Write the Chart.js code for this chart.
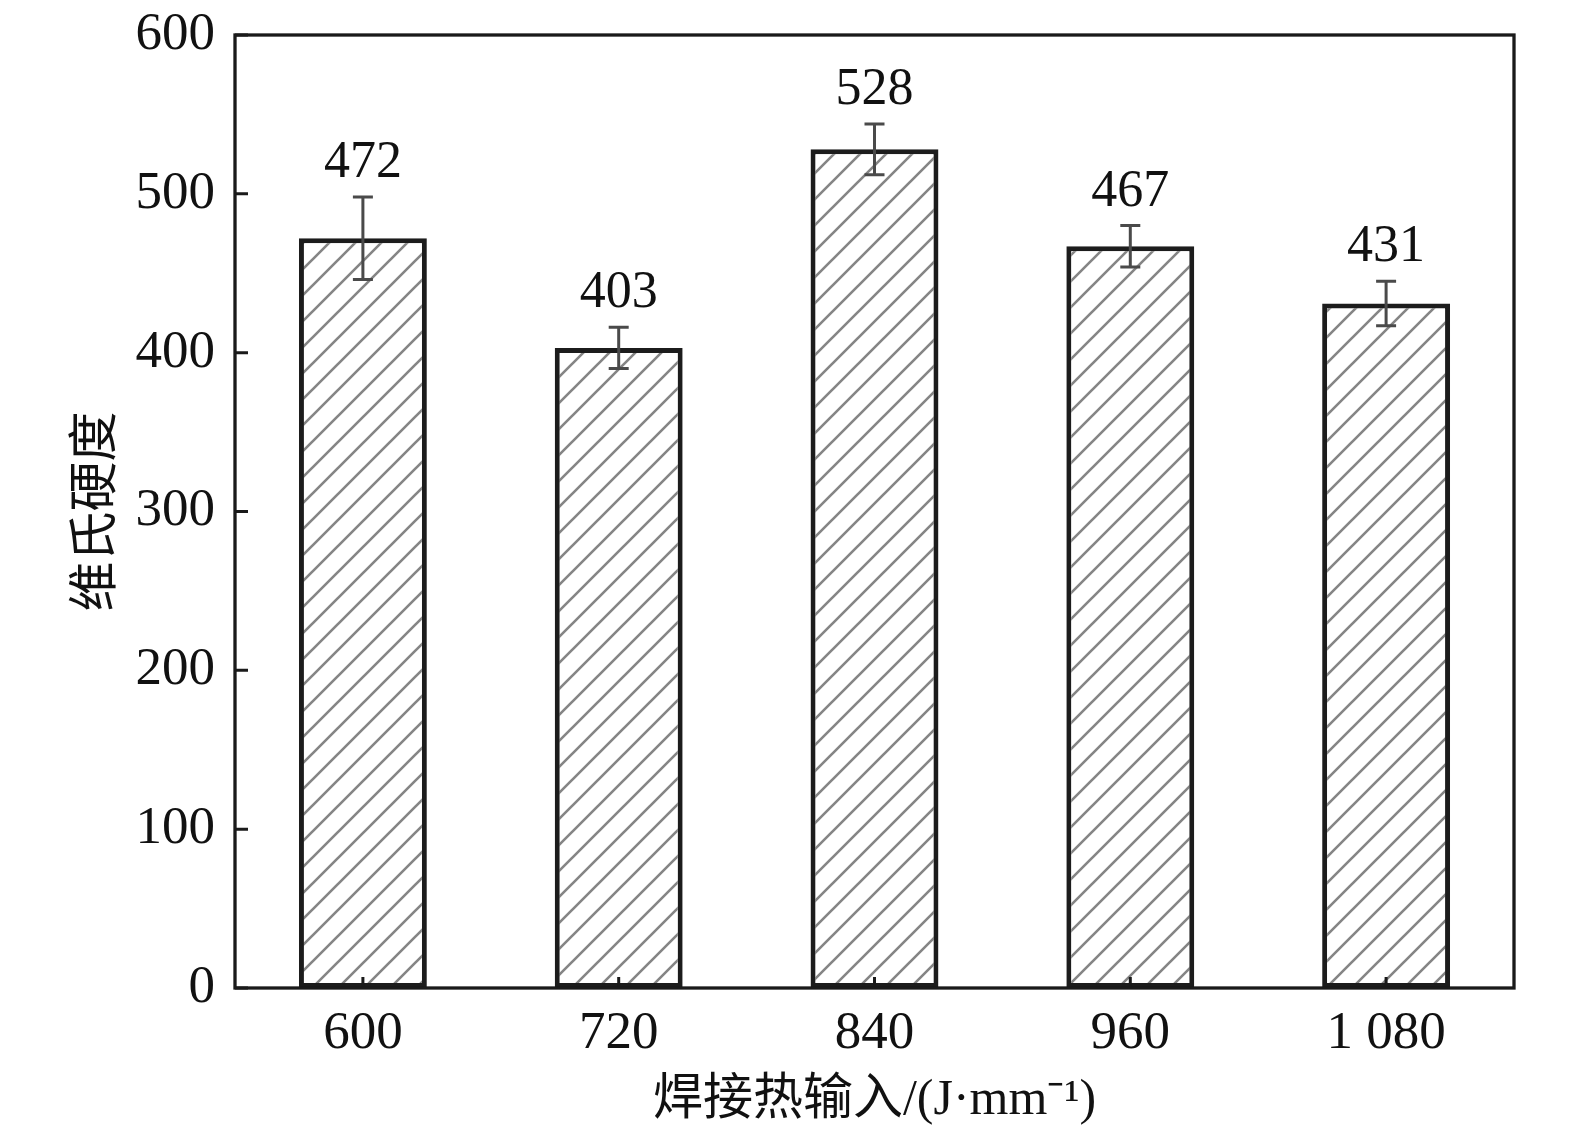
<!DOCTYPE html>
<html lang="zh">
<head>
<meta charset="UTF-8">
<title>维氏硬度</title>
<script src="https://cdn.jsdelivr.net/npm/chart.js"></script>
<style>
  html, body { margin: 0; padding: 0; background: #ffffff; overflow: hidden; }
  canvas { display: block; }
</style>
</head>
<body>
<canvas id="hv" width="1575" height="1136"></canvas>
<script>
// data
const heatInput = ['600', '720', '840', '960', '1 080'];
const hardness = [472, 403, 528, 467, 431];
const hardnessErr = [26, 13, 16, 13, 14];
const yTicks = [0, 100, 200, 300, 400, 500, 600];

const FONT = "'Liberation Serif', 'Noto Sans CJK SC', serif";

// diagonal hatch fill
function hatch() {
  const s = 26;
  const c = document.createElement('canvas');
  c.width = s; c.height = s;
  const g = c.getContext('2d');
  g.fillStyle = '#ffffff';
  g.fillRect(0, 0, s, s);
  g.strokeStyle = '#858585';
  g.lineWidth = 2.6;
  g.beginPath();
  g.moveTo(-2, s + 2); g.lineTo(s + 2, -2);
  g.moveTo(-2, 2); g.lineTo(2, -2);
  g.moveTo(s - 2, s + 2); g.lineTo(s + 2, s - 2);
  g.stroke();
  return g.createPattern(c, 'repeat');
}

// no automatic room for overflowing labels: the plot box is fixed
function noPad(s) {
  s.paddingTop = 0; s.paddingBottom = 0;
  s.paddingLeft = 0; s.paddingRight = 0;
}

// frame, inside ticks, error bars and value labels
const extras = {
  id: 'extras',
  afterDatasetsDraw(chart) {
    const ctx = chart.ctx;
    const a = chart.chartArea;
    const x = chart.scales.x, y = chart.scales.y;
    ctx.save();

    // error bars
    ctx.strokeStyle = '#4a4a4a';
    ctx.lineWidth = 3;
    hardness.forEach((v, i) => {
      const px = x.getPixelForValue(i);
      const top = y.getPixelForValue(v + hardnessErr[i]);
      const bot = y.getPixelForValue(v - hardnessErr[i]);
      ctx.beginPath();
      ctx.moveTo(px, top); ctx.lineTo(px, bot);
      ctx.moveTo(px - 10, top); ctx.lineTo(px + 10, top);
      ctx.moveTo(px - 10, bot); ctx.lineTo(px + 10, bot);
      ctx.stroke();

      ctx.fillStyle = '#111111';
      ctx.font = '52px ' + FONT;
      ctx.textAlign = 'center';
      ctx.textBaseline = 'alphabetic';
      ctx.fillText(String(v), px, top - 20);
    });

    // ticks pointing inward
    ctx.strokeStyle = '#1a1a1a';
    ctx.lineWidth = 3;
    ctx.beginPath();
    heatInput.forEach((_, i) => {
      const px = x.getPixelForValue(i);
      ctx.moveTo(px, a.bottom); ctx.lineTo(px, a.bottom - 11);
    });
    yTicks.forEach(t => {
      const py = y.getPixelForValue(t);
      ctx.moveTo(a.left, py); ctx.lineTo(a.left + 13, py);
    });
    ctx.stroke();

    // box
    ctx.lineWidth = 3.3;
    ctx.strokeRect(a.left, a.top, a.right - a.left, a.bottom - a.top);
    ctx.restore();
  }
};

const ctx = document.getElementById('hv').getContext('2d');

new Chart(ctx, {
  type: 'bar',
  data: {
    labels: heatInput,
    datasets: [{
      data: hardness,
      backgroundColor: hatch(),
      borderColor: '#1c1c1c',
      borderWidth: 5,
      borderSkipped: false,
      categoryPercentage: 1,
      barPercentage: 0.5
    }]
  },
  options: {
    responsive: false,
    animation: false,
    devicePixelRatio: 1,
    layout: { padding: { top: 35, right: 61, left: 0, bottom: 0 } },
    plugins: {
      legend: { display: false },
      tooltip: { enabled: false }
    },
    scales: {
      x: {
        grid: { display: false },
        border: { display: false },
        ticks: { color: '#111111', font: { family: FONT, size: 53 }, padding: 6 },
        title: {
          display: true,
          text: '焊接热输入/(J·mm⁻¹)',
          color: '#111111',
          font: { family: FONT, size: 50 },
          padding: { top: 0, bottom: 5 }
        },
        afterFit(s) { s.height = 148; noPad(s); }
      },
      y: {
        min: 0,
        max: 600,
        grid: { display: false },
        border: { display: false },
        ticks: { stepSize: 100, color: '#111111', font: { family: FONT, size: 53 }, padding: 12 },
        title: {
          display: true,
          text: '维氏硬度',
          color: '#111111',
          font: { family: FONT, size: 50 },
          padding: { top: 68, bottom: 0 }
        },
        afterFit(s) { s.width = 235; noPad(s); }
      }
    }
  },
  plugins: [extras]
});
</script>
</body>
</html>
